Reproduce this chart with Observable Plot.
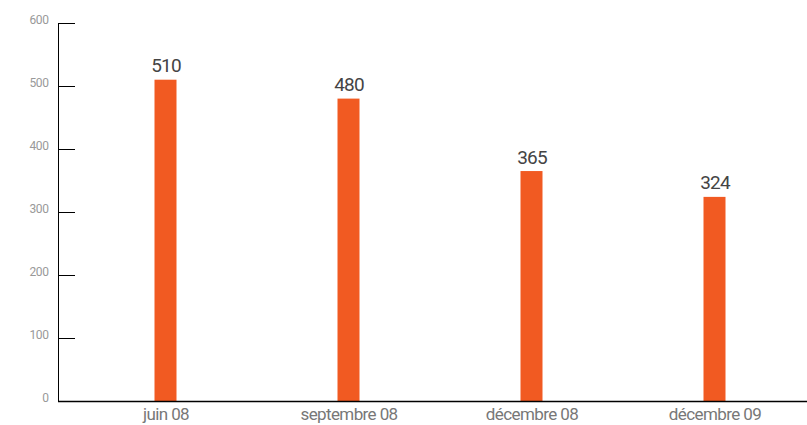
<!DOCTYPE html>
<html>
<head>
<meta charset="utf-8">
<script src="https://cdn.jsdelivr.net/npm/d3@7"></script>
<script src="https://cdn.jsdelivr.net/npm/@observablehq/plot@0.6"></script>
<style>
  html, body { margin: 0; padding: 0; background: #fff; }
  #chart svg { display: block; }
  #chart svg g[aria-label="x-axis tick label"] text { letter-spacing: -0.6px; }
  #chart svg g[aria-label="y-axis tick label"] text { letter-spacing: -0.4px; }
  #chart svg g[aria-label="text"] text { letter-spacing: -0.8px; }
</style>
</head>
<body>
<div id="chart"></div>
<script>
// Periods and counts
const periods = ["juin 08", "septembre 08", "décembre 08", "décembre 09"];
const counts = [510, 480, 365, 324];
const yTicks = [0, 100, 200, 300, 400, 500, 600];

const rows = periods.map((p, i) => ({period: p, count: counts[i]}));

const W = 807, H = 425;
const font = "Roboto, 'Liberation Sans', sans-serif";

const chart = Plot.plot({
  width: W,
  height: H,
  marginLeft: 58,
  marginRight: 0,
  marginTop: 23,
  marginBottom: 24,
  style: {fontFamily: font, background: "#fff"},
  x: {domain: periods, range: [72, W], padding: 0},
  y: {domain: [0, 600]},
  marks: [
    // narrow bars centred in each band
    Plot.barY(rows, {x: "period", y: "count", fill: "#f15a22", insetLeft: 80.5, insetRight: 80.5}),
    // value labels above bars
    Plot.text(rows, {
      x: "period", y: "count", text: d => String(d.count),
      lineAnchor: "bottom", dy: -8, fontSize: 19, fill: "#444"
    }),
    // short inward ticks on the y axis
    Plot.ruleY(yTicks, {stroke: "#000", insetRight: W - 75}),
    // left axis line
    Plot.frame({anchor: "left", stroke: "#000"}),
    // baseline
    Plot.ruleY([0], {stroke: "#000", strokeWidth: 1.3}),
    Plot.axisY(yTicks, {
      tickSize: 0, tickPadding: 10, fontSize: 12, fill: "#999",
      lineAnchor: "bottom", label: null
    }),
    Plot.axisX({
      tickSize: 0, tickPadding: 6, fontSize: 17, fill: "#777", label: null
    })
  ]
});

document.getElementById("chart").appendChild(chart);
</script>
</body>
</html>
